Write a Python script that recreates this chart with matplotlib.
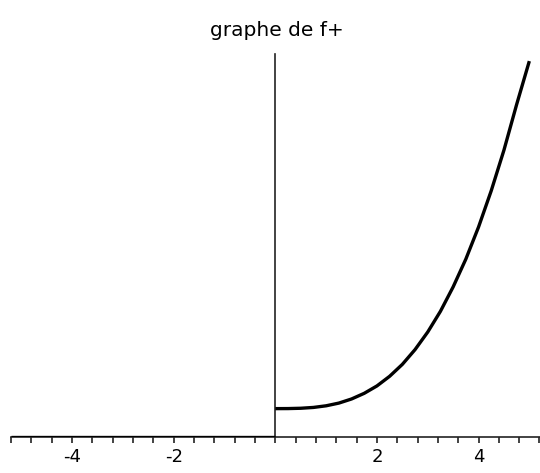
import matplotlib
matplotlib.use("Agg")
import matplotlib.pyplot as plt
from matplotlib.ticker import MultipleLocator

# f+ : zero on the negative side, then a cubic-like rise for x >= 0
x_neg = [-5.2, 0.0]
y_neg = [0.0, 0.0]

x_pos = [0.0, 0.25, 0.5, 0.75, 1.0, 1.25, 1.5, 1.75, 2.0, 2.25, 2.5,
         2.75, 3.0, 3.25, 3.5, 3.75, 4.0, 4.25, 4.5, 4.75, 5.0]
y_pos = [1.0, 1.002, 1.013, 1.042, 1.10, 1.195, 1.34, 1.54, 1.80, 2.14, 2.56,
         3.08, 3.70, 4.43, 5.29, 6.27, 7.40, 8.68, 10.11, 11.72, 13.25]

major_ticks = [-4, -2, 2, 4]
tick_labels = ["-4", "-2", "2", "4"]
title_text = "graphe de f+"

fig = plt.figure(figsize=(5.40, 4.73), dpi=100)
ax = fig.add_axes([0.0, 36 / 473, 1.0, 383 / 473])
ax.set_xlim(-5.42, 5.21)
ax.set_ylim(0, 13.5)

ax.plot(x_neg, y_neg, color="black", lw=2.4, solid_capstyle="butt", zorder=3)
ax.plot(x_pos, y_pos, color="black", lw=2.4, solid_capstyle="butt", zorder=3)

for s in ("top", "right"):
    ax.spines[s].set_visible(False)
ax.spines["bottom"].set_position(("data", 0))
ax.spines["left"].set_position(("data", 0))
ax.spines["bottom"].set_bounds(-5.2, 5.21)
ax.spines["left"].set_bounds(0, 13.5)
for s in ("bottom", "left"):
    ax.spines[s].set_linewidth(1.2)
    ax.spines[s].set_color("#222222")

ax.set_xticks(major_ticks)
ax.set_xticklabels(tick_labels, fontsize=13)
ax.xaxis.set_minor_locator(MultipleLocator(0.4))
ax.tick_params(axis="x", which="both", direction="out", length=4, width=1.2,
               color="#222222", pad=4)
ax.set_yticks([])
ax.patch.set_alpha(0)

fig.text(277 / 540, 1 - 30 / 473, title_text, ha="center", va="center",
         fontsize=14.5)

fig.savefig("out.png", dpi=100)
